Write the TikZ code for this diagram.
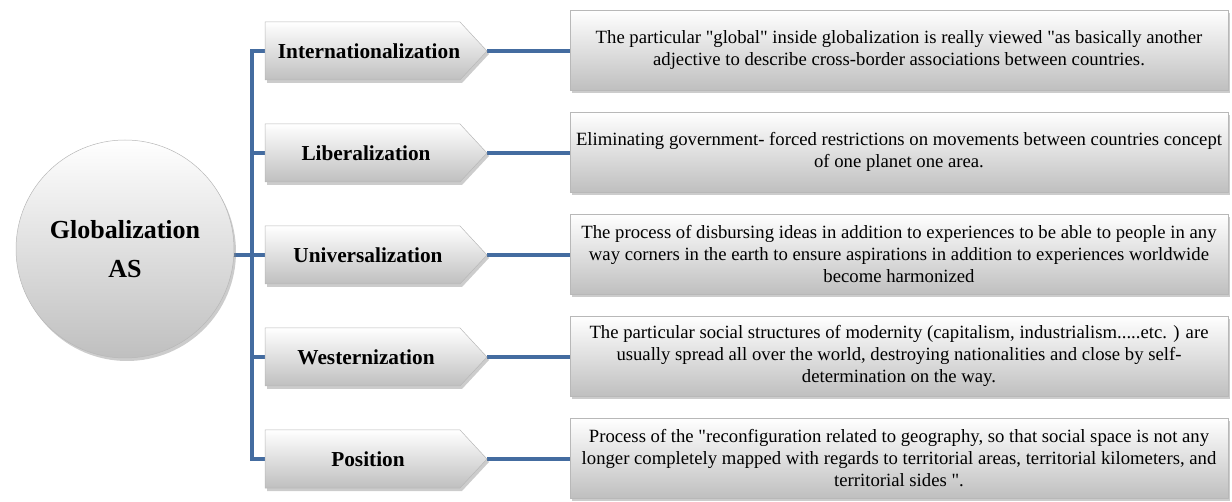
\documentclass[tikz,border=0pt]{standalone}
\usepackage{fontspec}
\setmainfont{Liberation Serif}[Ligatures=TeXOff]
\usetikzlibrary{shapes.geometric,shadows,backgrounds}
\definecolor{connblue}{RGB}{68,108,160}
\begin{document}
\begin{tikzpicture}[x=1pt,y=-1pt,
  conn/.style={draw=connblue,line width=4pt,line join=miter},
  boxshade/.style={top color=white,bottom color=black!25,draw=black!28,line width=0.5pt,
    drop shadow={shadow xshift=2pt,shadow yshift=-3pt,opacity=0.4}},
  labeltext/.style={inner sep=0pt,font=\fontsize{21.3}{24}\selectfont\bfseries},
  descbox/.style={boxshade,rectangle,minimum width=658pt,minimum height=80pt,
    inner sep=1pt,align=center,font=\fontsize{18.7}{21.7}\selectfont},
  hub/.style={boxshade,circle,minimum size=218pt,inner sep=0pt,align=center,
    font=\fontsize{26}{39}\selectfont\bfseries}]
\useasboundingbox (0,0) rectangle (1232,502);

\node[hub] (hub) at (125,249) {Globalization\\AS};

% label chevrons
\foreach \i/\y in {1/51,2/153,3/255,4/357,5/459}{
  \path[boxshade] (265,\y-29) -- (460,\y-29) -- (487,\y) -- (460,\y+29) -- (265,\y+29) -- cycle;
  \coordinate (w\i) at (265,\y);
  \coordinate (t\i) at (487,\y);
}
\node[labeltext] (l1) at (369,51)  {Internationalization};
\node[labeltext] (l2) at (366,153) {Liberalization};
\node[labeltext] (l3) at (368,255) {Universalization};
\node[labeltext] (l4) at (366,357) {Westernization};
\node[labeltext] (l5) at (368,459) {Position};

\node[descbox] (r1) at (899,50) {The particular "global" inside globalization is really viewed "as basically another\\adjective to describe cross-border associations between countries.};
\node[descbox] (r2) at (899,152) {Eliminating government- forced restrictions on movements between countries concept\\of one planet one area.};
\node[descbox] (r3) at (899,254) {The process of disbursing ideas in addition to experiences to be able to people in any\\way corners in the earth to ensure aspirations in addition to experiences worldwide\\become harmonized};
\node[descbox] (r4) at (899,356) {The particular social structures of modernity (capitalism, industrialism.....etc. ) are\\usually spread all over the world, destroying nationalities and close by self-\\determination on the way.};
\node[descbox] (r5) at (899,458) {Process of the "reconfiguration related to geography, so that social space is not any\\longer completely mapped with regards to territorial areas, territorial kilometers, and\\territorial sides ".};

\coordinate (tk) at (252,0);
\begin{scope}[on background layer]
  \draw[conn] (w1) -- (w1 -| tk) -- (w5 -| tk) -- (w5);
  \draw[conn] (w2 -| tk) -- (w2);
  \draw[conn] (w4 -| tk) -- (w4);
  \draw[conn] (hub.center |- w3) -- (w3);
  \draw[conn] (t1) -- (r1.west |- t1);
  \draw[conn] (t2) -- (r2.west |- t2);
  \draw[conn] (t3) -- (r3.west |- t3);
  \draw[conn] (t4) -- (r4.west |- t4);
  \draw[conn] (t5) -- (r5.west |- t5);
\end{scope}
\end{tikzpicture}
\end{document}
